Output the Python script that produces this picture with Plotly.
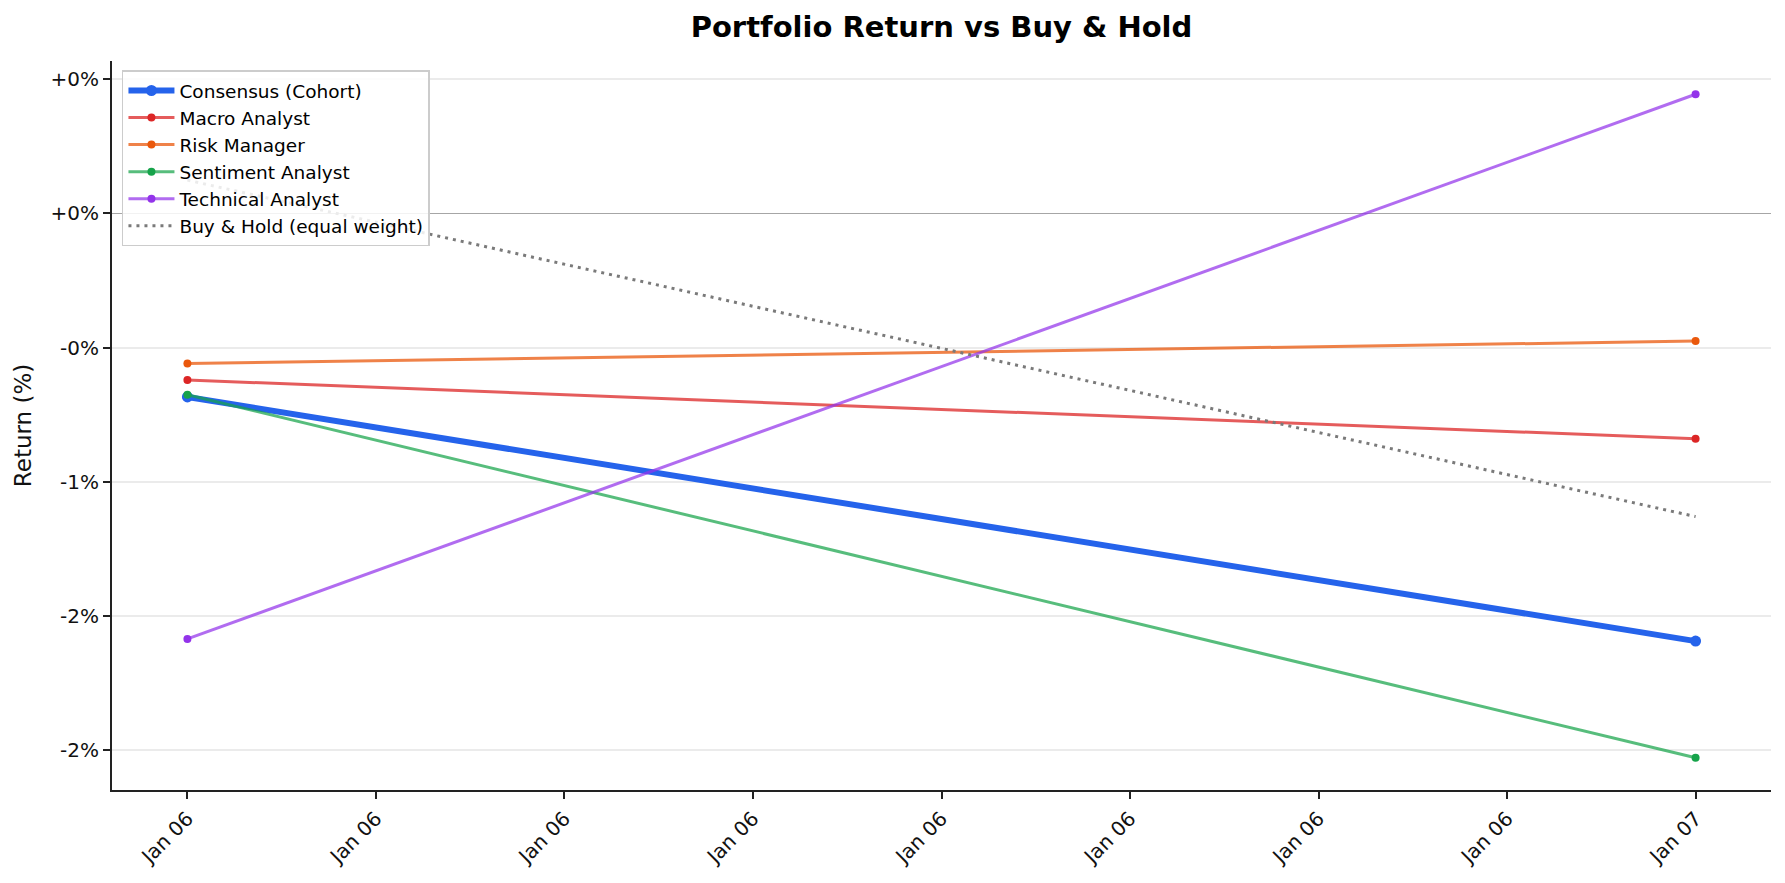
import plotly.graph_objects as go

# two snapshots: start and end of the run
dates = ['2025-01-06 00:00', '2025-01-07 00:00']

consensus = [-0.684, -1.594]
macro = [-0.621, -0.840]
risk = [-0.559, -0.476]
sentiment = [-0.676, -2.029]
technical = [-1.586, 0.444]
buy_hold = [0.124, -1.130]

y_ticks = [0.5, 0.0, -0.5, -1.0, -1.5, -2.0]
y_tick_labels = ['+0%', '+0%', '-0%', '-1%', '-2%', '-2%']

FONT = 'DejaVu Sans'

agents = [
    ('Macro Analyst', macro, '#dc2626', 'rgba(220,38,38,0.75)'),
    ('Risk Manager', risk, '#ea580c', 'rgba(234,88,12,0.75)'),
    ('Sentiment Analyst', sentiment, '#16a34a', 'rgba(22,163,74,0.72)'),
    ('Technical Analyst', technical, '#9333ea', 'rgba(147,51,234,0.72)'),
]

fig = go.Figure()

fig.add_trace(go.Scatter(
    x=dates, y=consensus, name='Consensus (Cohort)', mode='lines+markers',
    line=dict(color='#2563eb', width=6), marker=dict(color='#2563eb', size=11),
))

for name, vals, mcol, lcol in agents:
    fig.add_trace(go.Scatter(
        x=dates, y=vals, name=name, mode='lines+markers',
        line=dict(color=lcol, width=3), marker=dict(color=mcol, size=8),
    ))

fig.add_trace(go.Scatter(
    x=dates, y=buy_hold, name='Buy & Hold (equal weight)', mode='lines',
    line=dict(color='#7a7a7a', width=3, dash='3px,5px'),
))

# page body has an 8px margin, so the figure is a bit smaller than the window
W, H = 1769, 867

fig.update_layout(
    width=W, height=H,
    margin=dict(l=104, r=6, t=53, b=82),
    paper_bgcolor='white', plot_bgcolor='white',
    font=dict(family=FONT, size=20, color='#111'),
    title=dict(text='<b>Portfolio Return vs Buy & Hold</b>', x=0.5, xref='paper',
               y=1 - 19 / H, yref='container', yanchor='middle',
               font=dict(family=FONT, size=29, color='black')),
    legend=dict(x=0.006, y=0.987, xanchor='left', yanchor='top',
                bgcolor='rgba(255,255,255,0.85)', bordercolor='#cccccc', borderwidth=1.5,
                font=dict(family=FONT, size=18.5, color='black'),
                itemwidth=46, tracegroupgap=0),
    showlegend=True,
)

fig.update_xaxes(
    type='date', range=['2025-01-05 22:48', '2025-01-07 01:12'],
    tick0='2025-01-06', dtick=3 * 3600 * 1000, tickformat='%b %d',
    tickangle=-45, ticks='outside', ticklen=7, tickwidth=1.6, tickcolor='#222',
    showline=True, linecolor='#222', linewidth=2, showgrid=False, zeroline=False,
    tickfont=dict(family=FONT, size=20, color='#111'),
)

fig.update_yaxes(
    range=[-2.149, 0.568], tickvals=y_ticks, ticktext=y_tick_labels,
    ticks='outside', ticklen=7, tickwidth=1.6, tickcolor='#222',
    showline=True, linecolor='#222', linewidth=2,
    showgrid=True, gridcolor='#ebebeb', gridwidth=1.5,
    zeroline=True, zerolinecolor='#a6a6a6', zerolinewidth=1.3,
    title=dict(text='Return (%)', standoff=12, font=dict(family=FONT, size=23, color='#111')),
    tickfont=dict(family=FONT, size=20, color='#111'),
)

fig.write_html('out.html')
